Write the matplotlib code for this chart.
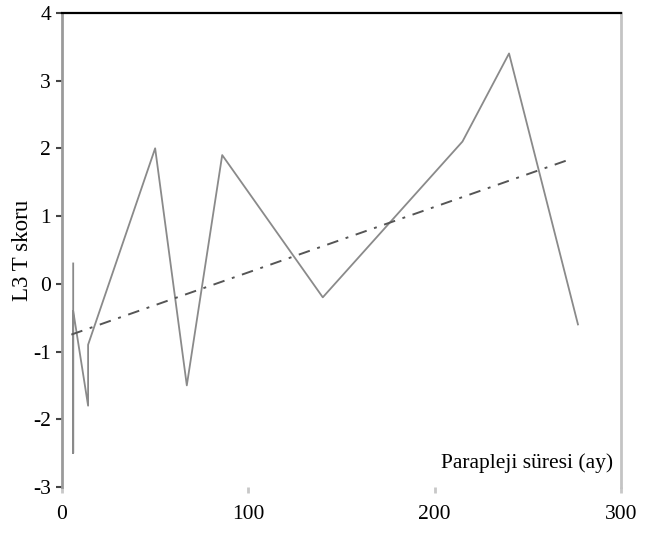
import matplotlib
matplotlib.use("Agg")
import matplotlib.pyplot as plt
import numpy as np

plt.rcParams['font.family'] = ['Liberation Serif', 'DejaVu Serif']
plt.rcParams['axes.unicode_minus'] = False

# L3 T skoru vs parapleji suresi
sure = [6, 6, 6, 14, 14, 50, 67, 86, 140, 215, 240, 277]
skor = [0.3, -2.5, -0.4, -1.8, -0.9, 2.0, -1.5, 1.9, -0.2, 2.1, 3.4, -0.6]

# trend line end points
trend_x = [5, 274]
trend_y = [-0.75, 1.85]

fig = plt.figure(figsize=(6.46, 5.34), dpi=100)
ax = fig.add_axes([0.096, 0.088, 0.865, 0.888])

ax.plot(sure, skor, color='#8a8a8a', lw=1.3)
ax.plot(trend_x, trend_y, color='#555555', lw=1.4, linestyle=(0, (6, 4, 1.5, 4)))

ax.set_xlim(0, 300)
ax.set_ylim(-3, 4)
ax.set_xticks([0, 100, 200, 300])
ax.set_yticks(range(-3, 5))

ax.spines['bottom'].set_visible(False)
ax.spines['top'].set_color('black')
ax.spines['top'].set_linewidth(1.6)
ax.spines['left'].set_color('#9a9a9a')
ax.spines['left'].set_linewidth(2)
ax.spines['right'].set_color('#c4c4c4')
ax.spines['right'].set_linewidth(2)

ax.tick_params(axis='y', direction='out', length=4, width=1.5, color='#444444',
               labelsize=15.5, pad=4)
ax.tick_params(axis='x', direction='out', length=4, width=2, color='#c8c8c8',
               labelsize=15.5, pad=9)

ax.set_ylabel('L3 T skoru', fontsize=16.5, labelpad=0)
ax.text(0.987, 0.03, 'Parapleji süresi (ay)', transform=ax.transAxes,
        ha='right', va='bottom', fontsize=15.5)

fig.savefig('out.png', dpi=100)
